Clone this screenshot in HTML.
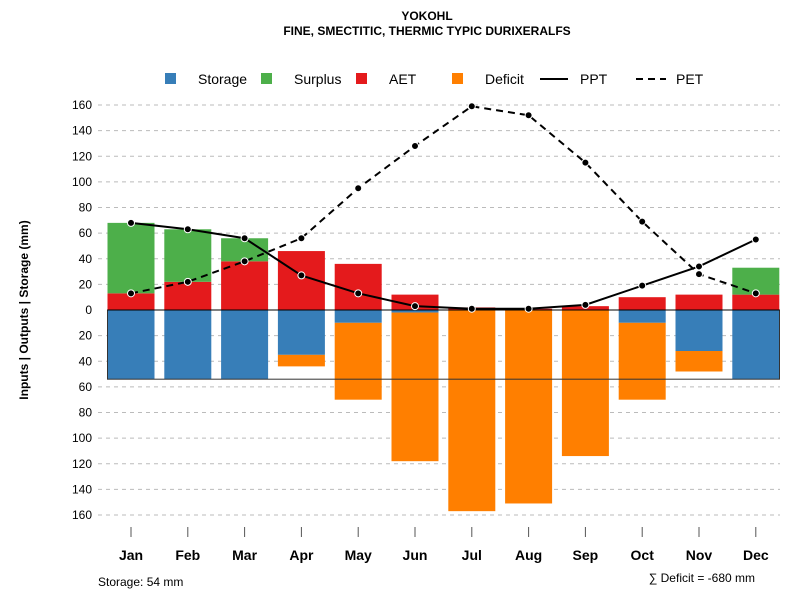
<!DOCTYPE html>
<html><head><meta charset="utf-8"><style>
body{margin:0;background:#fff}
svg{font-family:"Liberation Sans",sans-serif}
</style></head><body>
<svg id="c" width="800" height="600" xmlns="http://www.w3.org/2000/svg">
<text x="427" y="20" font-size="12" font-weight="bold" text-anchor="middle">YOKOHL</text>
<text x="427" y="35" font-size="12" font-weight="bold" text-anchor="middle">FINE, SMECTITIC, THERMIC TYPIC DURIXERALFS</text>
<g id="grid"></g><g id="bars"></g><g id="lines"></g><g id="axes"></g>
<g font-size="14">
<rect x="165" y="73" width="11" height="11" fill="#377eb8"/><text x="198" y="84">Storage</text>
<rect x="261" y="73" width="11" height="11" fill="#4daf4a"/><text x="294" y="84">Surplus</text>
<rect x="356" y="73" width="11" height="11" fill="#e41a1c"/><text x="389" y="84">AET</text>
<rect x="452" y="73" width="11" height="11" fill="#ff7f00"/><text x="485" y="84">Deficit</text>
<line x1="540" y1="79" x2="568" y2="79" stroke="#000" stroke-width="2"/><text x="580" y="84">PPT</text>
<line x1="636" y1="79" x2="666" y2="79" stroke="#000" stroke-width="2" stroke-dasharray="7,5"/><text x="676" y="84">PET</text>
</g>
<text transform="translate(28,310) rotate(-90)" font-size="12" font-weight="bold" text-anchor="middle">Inputs | Outputs | Storage    (mm)</text>
<text x="98" y="586" font-size="12">Storage: 54 mm</text>
<text x="755" y="582" font-size="12" text-anchor="end">∑ Deficit = -680 mm</text>
</svg>
<script>
const months=["Jan","Feb","Mar","Apr","May","Jun","Jul","Aug","Sep","Oct","Nov","Dec"];
const storage=[54,54,54,35,10,2,0,0,0,10,32,54];
const deficit=[0,0,0,9,60,116,157,151,114,60,16,0];
const aet=[13,22,38,46,36,12,2,1,3,10,12,12];
const surplus=[55,41,18,0,0,0,0,0,0,0,0,21];
const ppt=[68,63,56,27,13,3,1,1,4,19,34,55];
const pet=[13,22,38,56,95,128,159,152,115,69,28,13];
const yTicks=[160,140,120,100,80,60,40,20,0,-20,-40,-60,-80,-100,-120,-140,-160];
const sc=205/160;
const y=v=>310-v*sc;
const x=i=>131+i*56.8;
const bw=47;
const NS="http://www.w3.org/2000/svg";
function mk(p,t,a){const e=document.createElementNS(NS,t);for(const k in a)e.setAttribute(k,a[k]);document.getElementById(p).appendChild(e);return e;}
yTicks.forEach(t=>{
 if(t!==0){const g=mk('grid','line',{x1:98,x2:780,y1:y(t),y2:y(t),stroke:'#bbb','stroke-dasharray':'4,4'});
 
 }
 const tl=mk('axes','text',{x:92,y:y(t)+4,'font-size':12,'text-anchor':'end'});tl.textContent=Math.abs(t);
 
 
});
months.forEach((m,i)=>{
 const cx=x(i),l=cx-bw/2;
 const segs=[[0,-storage[i],'#377eb8','storage'],[-storage[i],-storage[i]-deficit[i],'#ff7f00','deficit'],[0,aet[i],'#e41a1c','aet'],[aet[i],aet[i]+surplus[i],'#4daf4a','surplus']];
 segs.forEach(s=>{if(s[0]===s[1])return;
  const r=mk('bars','rect',{x:l,y:y(Math.max(s[0],s[1])),width:bw,height:Math.abs(s[1]-s[0])*sc,fill:s[2]});
  
  });
 mk('axes','line',{x1:cx,x2:cx,y1:527,y2:537,stroke:'#555'});
 const t=mk('axes','text',{x:cx,y:560,'font-size':14,'font-weight':'bold','text-anchor':'middle'});t.textContent=m;
 
 
});
const box=mk('bars','rect',{x:107.5,y:y(0),width:672,height:54*sc,fill:'none',stroke:'#333','stroke-width':1});


mk('bars','line',{x1:107.5,x2:779.5,y1:y(0),y2:y(0),stroke:'#000'});
function series(d,name,dash){
 const p=mk('lines','polyline',{points:d.map((v,i)=>x(i)+','+y(v)).join(' '),fill:'none',stroke:'#000','stroke-width':2,'stroke-dasharray':dash});
 
 
 d.forEach((v,i)=>{const c=mk('lines','circle',{cx:x(i),cy:y(v),r:3.5,fill:'#000',stroke:'#fff','stroke-width':1});
  
  });
}
series(ppt,'ppt','none');
series(pet,'pet','7,5');
</script>
</body></html>
